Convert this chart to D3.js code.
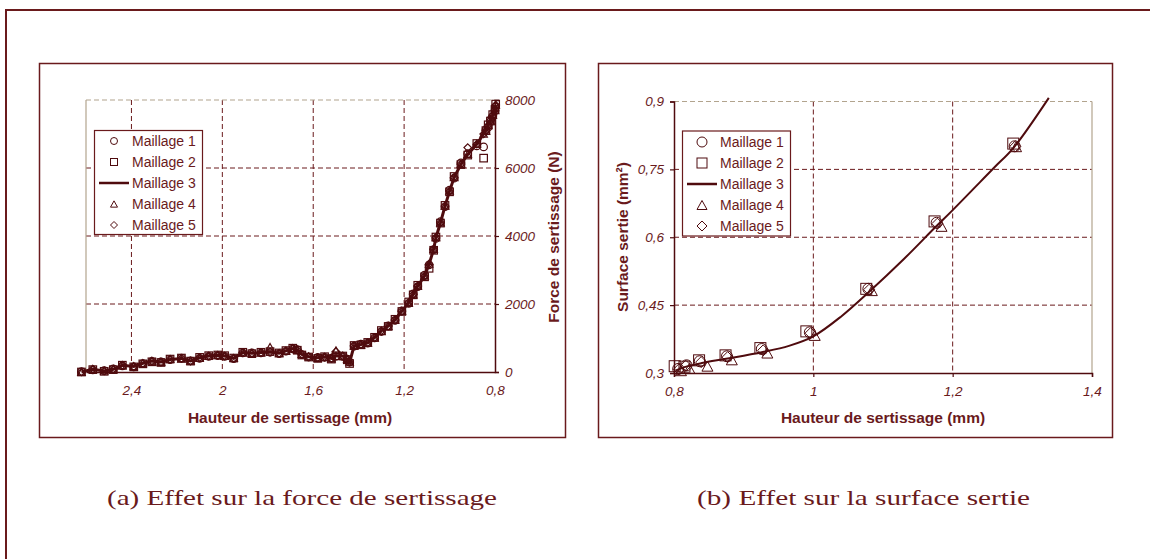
<!DOCTYPE html>
<html>
<head>
<meta charset="utf-8">
<script src="https://cdn.jsdelivr.net/npm/d3@7/dist/d3.min.js"></script>
<style>
  body { margin:0; background:#ffffff; }
  text { font-family:"Liberation Sans", Arial, sans-serif; }
</style>
</head>
<body>
<svg id="fig" width="1150" height="559"></svg>
<script>
// ---- data (a) : force de sertissage vs hauteur ----
var hauteurs = [2.62,2.57,2.52,2.48,2.44,2.39,2.35,2.31,2.27,2.23,2.18,2.14,2.10,2.06,2.02,1.99,1.95,1.91,1.87,1.83,
  1.79,1.75,1.72,1.69,1.67,1.65,1.62,1.58,1.55,1.52,1.50,1.47,1.45,1.44,1.42,1.39,1.36,1.33,1.30,1.27,
  1.24,1.21,1.18,1.16,1.14,1.11,1.09,1.07,1.06,1.04,1.02,1.00,0.98,0.95,0.92,0.88,0.85,0.84,0.83,0.82,
  0.81,0.80,0.797];
var forceM1 = [10,60,40,90,180,150,250,310,300,360,410,330,400,460,480,460,390,560,560,560,
  580,540,610,680,660,510,440,430,430,410,460,460,380,290,760,820,850,1000,1190,1360,
  1520,1800,2020,2300,2510,2850,3150,3600,3930,4420,4860,5350,5700,6150,6420,6650,6620,7120,7200,7420,
  7520,7680,7800];
var forceM2 = [0,70,20,70,200,150,240,300,280,380,410,320,430,480,500,480,410,580,540,580,
  600,560,630,700,640,500,440,400,450,380,480,470,360,250,780,800,870,1020,1220,1340,
  1550,1780,2060,2270,2550,2800,3050,3580,3970,4380,4900,5300,5750,6100,6380,6720,6290,7100,7270,7380,
  7570,7720,7880];
var forceM3 = [0,80,30,80,195,160,255,320,295,370,400,325,420,470,490,470,400,570,550,570,
  590,550,620,690,650,520,450,420,440,400,470,470,370,280,770,810,860,1010,1210,1350,
  1530,1790,2040,2280,2530,2820,3170,3610,3950,4390,4880,5320,5720,6110,6400,6700,7000,7100,7250,7400,
  7550,7700,7850];
var forceM4 = [0,90,40,90,190,170,260,330,290,380,390,330,410,470,500,470,410,570,560,570,
  740,550,620,700,650,530,460,410,440,400,640,480,380,300,770,810,860,1010,1200,1350,
  1530,1790,2030,2280,2530,2830,3180,3620,3960,4400,4890,5330,5730,6120,6410,6710,7010,7090,7260,7390,
  7560,7700,7860];
var forceM5 = [0,80,30,80,200,160,250,320,300,370,400,320,420,470,490,470,400,570,550,570,
  590,550,620,690,650,520,450,420,440,400,600,470,370,290,770,810,860,1010,1210,1350,
  1530,1790,2040,2280,2530,2820,3170,3610,3950,4390,4880,5320,5720,6110,6600,6700,7000,7100,7250,7400,
  7550,7700,7850];

// ---- data (b) : surface sertie vs hauteur ----
var surfM1 = [[0.806,0.309],[0.818,0.317],[0.837,0.326],[0.876,0.337],[0.926,0.353],[0.995,0.390],[1.079,0.486],[1.177,0.632],[1.289,0.801]];
var surfM2 = [[0.801,0.315],[0.815,0.314],[0.836,0.328],[0.874,0.339],[0.924,0.355],[0.990,0.392],[1.076,0.486],[1.174,0.635],[1.287,0.807]];
var surfM4 = [[0.810,0.305],[0.822,0.310],[0.848,0.315],[0.883,0.329],[0.934,0.344],[1.002,0.383],[1.084,0.482],[1.184,0.624],[1.291,0.800]];
var surfM5 = [[0.807,0.308],[0.817,0.316],[0.839,0.324],[0.877,0.335],[0.928,0.350],[0.996,0.388],[1.080,0.484],[1.178,0.630],[1.290,0.801]];
var surfM3 = [[0.802,0.305],[0.815,0.313],[0.840,0.322],[0.877,0.332],[0.926,0.346],[0.965,0.360],[1.000,0.381],
  [1.040,0.425],[1.079,0.478],[1.130,0.552],[1.175,0.622],[1.200,0.660],[1.259,0.753],[1.287,0.797],[1.338,0.908]];

var xTicksA = [2.4, 2, 1.6, 1.2, 0.8];
var yTicksA = [0, 2000, 4000, 6000, 8000];
var xTicksB = [0.8, 1, 1.2, 1.4];
var yTicksB = [0.3, 0.45, 0.6, 0.75, 0.9];
var legendLabels = ["Maillage 1", "Maillage 2", "Maillage 3", "Maillage 4", "Maillage 5"];
var legendKinds = ["circle", "square", "line", "triangle", "diamond"];

var dark = "#4f0b0e";
var red = "#6a1a1c";
var tan = "#b2a48e";

var svg = d3.select("#fig");
svg.append("rect").attr("width",1150).attr("height",559).attr("fill","#ffffff");

// outer frame (runs past the picture on right & bottom)
svg.append("rect").attr("x",6).attr("y",10).attr("width",1160).attr("height",570)
  .attr("fill","none").attr("stroke",red).attr("stroke-width",2);

// chart boxes
svg.append("rect").attr("x",39.5).attr("y",63.5).attr("width",526).attr("height",374)
  .attr("fill","none").attr("stroke",red).attr("stroke-width",1.5);
svg.append("rect").attr("x",598.5).attr("y",63.5).attr("width",514).attr("height",374)
  .attr("fill","none").attr("stroke",red).attr("stroke-width",1.5);

function fr(d) { return String(d).replace(".", ","); }

function marker(g, kind, x, y, s) {
  //s = approx width of the marker
  if (kind == "circle") {
    g.append("circle").attr("cx",x).attr("cy",y).attr("r",s/2);
  } else if (kind == "square") {
    g.append("rect").attr("x",x-s/2).attr("y",y-s/2).attr("width",s).attr("height",s);
  } else if (kind == "triangle") {
    var h = s*0.9;
    g.append("path").attr("d","M"+x+","+(y-h/2)+"L"+(x+s/2)+","+(y+h/2)+"L"+(x-s/2)+","+(y+h/2)+"Z");
  } else if (kind == "diamond") {
    var r = s/2;
    g.append("path").attr("d","M"+x+","+(y-r)+"L"+(x+r)+","+y+"L"+x+","+(y+r)+"L"+(x-r)+","+y+"Z");
  }
}

// ================= chart (a) =================
var xA = d3.scaleLinear().domain([2.6, 0.8]).range([86, 495]);
var yA = d3.scaleLinear().domain([0, 8000]).range([372, 100]);

var gA = svg.append("g");
// grid
gA.selectAll(".vgrid").data([2.4, 2, 1.6, 1.2]).enter().append("line")
  .attr("x1",d => xA(d)).attr("x2",d => xA(d)).attr("y1",yA(8000)).attr("y2",yA(0))
  .attr("stroke",red).attr("stroke-dasharray","5,3").attr("stroke-width",1);
gA.selectAll(".hgrid").data([2000, 4000, 6000]).enter().append("line")
  .attr("x1",xA(2.6)).attr("x2",xA(0.8)).attr("y1",d => yA(d)).attr("y2",d => yA(d))
  .attr("stroke",red).attr("stroke-dasharray","5,3").attr("stroke-width",1);
gA.append("line").attr("x1",xA(2.6)).attr("x2",xA(0.8)).attr("y1",yA(8000)).attr("y2",yA(8000))
  .attr("stroke",tan).attr("stroke-dasharray","5,3").attr("stroke-width",1.2);
gA.append("line").attr("x1",xA(2.6)).attr("x2",xA(2.6)).attr("y1",yA(8000)).attr("y2",yA(0))
  .attr("stroke",tan).attr("stroke-width",1.2);

// axes
var axA = gA.append("g").attr("transform","translate(0,"+yA(0)+")")
  .call(d3.axisBottom(xA).tickValues(xTicksA).tickSize(0).tickPadding(13).tickFormat(fr));
var ayA = gA.append("g").attr("transform","translate("+xA(0.8)+",0)")
  .call(d3.axisRight(yA).tickValues(yTicksA).tickSize(4).tickPadding(6).tickFormat(d => String(d)));
[axA, ayA].forEach(function(a) {
  a.select(".domain").attr("stroke",dark).attr("stroke-width",1.5);
  a.selectAll(".tick line").attr("stroke",dark).attr("stroke-width",1.2);
  a.selectAll(".tick text").attr("fill",red).style("font-size","13.5px").style("font-style","italic")
    .style("font-family","'Liberation Sans', Arial, sans-serif");
});

// data
var lineA = d3.line().x(d => xA(d[0])).y(d => yA(d[1]));
var seriesA = [forceM1, forceM2, forceM4, forceM5];
var kindsA = ["circle", "square", "triangle", "diamond"];
for (var k=0; k<seriesA.length; k++) {
  var gm = gA.append("g").attr("fill","none").attr("stroke",dark).attr("stroke-width",1.2);
  for (var i=0; i<hauteurs.length; i++) {
    marker(gm, kindsA[k], xA(hauteurs[i]), yA(seriesA[k][i]), 7.5);
  }
}
gA.append("path").datum(hauteurs.map((h,i) => [h, forceM3[i]]))
  .attr("d",lineA).attr("fill","none").attr("stroke",dark).attr("stroke-width",3);

// titles
gA.append("text").attr("x",290).attr("y",423).attr("text-anchor","middle")
  .attr("fill",red).style("font-weight","bold").style("font-size","15.5px")
  .text("Hauteur de sertissage (mm)");
gA.append("text").attr("transform","translate(559,237) rotate(-90)").attr("text-anchor","middle")
  .attr("fill",red).style("font-weight","bold").style("font-size","15.5px")
  .text("Force de sertissage (N)");

// ================= chart (b) =================
var xB = d3.scaleLinear().domain([0.8, 1.4]).range([674, 1092]);
var yB = d3.scaleLinear().domain([0.3, 0.9]).range([373, 101.5]);

var gB = svg.append("g");
gB.selectAll(".vgrid").data([1, 1.2]).enter().append("line")
  .attr("x1",d => xB(d)).attr("x2",d => xB(d)).attr("y1",yB(0.9)).attr("y2",yB(0.3))
  .attr("stroke",red).attr("stroke-dasharray","5,3").attr("stroke-width",1);
gB.selectAll(".hgrid").data([0.45, 0.6, 0.75]).enter().append("line")
  .attr("x1",xB(0.8)).attr("x2",xB(1.4)).attr("y1",d => yB(d)).attr("y2",d => yB(d))
  .attr("stroke",red).attr("stroke-dasharray","5,3").attr("stroke-width",1);
gB.append("line").attr("x1",xB(0.8)).attr("x2",xB(1.4)).attr("y1",yB(0.9)).attr("y2",yB(0.9))
  .attr("stroke",tan).attr("stroke-dasharray","5,3").attr("stroke-width",1.2);
gB.append("line").attr("x1",xB(1.4)).attr("x2",xB(1.4)).attr("y1",yB(0.9)).attr("y2",yB(0.3))
  .attr("stroke",tan).attr("stroke-width",1.2);

var axB = gB.append("g").attr("transform","translate(0,"+yB(0.3)+")")
  .call(d3.axisBottom(xB).tickValues(xTicksB).tickSize(4).tickPadding(9).tickFormat(fr));
var ayB = gB.append("g").attr("transform","translate("+xB(0.8)+",0)")
  .call(d3.axisLeft(yB).tickValues(yTicksB).tickSize(4).tickPadding(6).tickFormat(fr));
[axB, ayB].forEach(function(a) {
  a.select(".domain").attr("stroke",dark).attr("stroke-width",1.5);
  a.selectAll(".tick line").attr("stroke",dark).attr("stroke-width",1.2);
  a.selectAll(".tick text").attr("fill",red).style("font-size","13.5px").style("font-style","italic")
    .style("font-family","'Liberation Sans', Arial, sans-serif");
});

var seriesB = [surfM1, surfM2, surfM4, surfM5];
for (var k=0; k<seriesB.length; k++) {
  var gm = gB.append("g").attr("fill","none").attr("stroke",dark).attr("stroke-width",1);
  seriesB[k].forEach(function(p) {
    marker(gm, kindsA[k], xB(p[0]), yB(p[1]), 11);
  });
}
var lineB = d3.line().x(d => xB(d[0])).y(d => yB(d[1])).curve(d3.curveCatmullRom);
gB.append("path").datum(surfM3).attr("d",lineB)
  .attr("fill","none").attr("stroke",dark).attr("stroke-width",2);

gB.append("text").attr("x",883).attr("y",423).attr("text-anchor","middle")
  .attr("fill",red).style("font-weight","bold").style("font-size","15.5px")
  .text("Hauteur de sertissage (mm)");
gB.append("text").attr("transform","translate(628,237) rotate(-90)").attr("text-anchor","middle")
  .attr("fill",red).style("font-weight","bold").style("font-size","15.5px")
  .text("Surface sertie (mm²)");

// ================= legends =================
function legend(x0, y0, w, h, symX, lineX1, lineX2, textX, rowY, s) {
  var g = svg.append("g");
  g.append("rect").attr("x",x0).attr("y",y0).attr("width",w).attr("height",h)
    .attr("fill","#ffffff").attr("stroke",red).attr("stroke-width",1.2);
  legendLabels.forEach(function(lab, i) {
    var y = rowY[i];
    if (legendKinds[i] == "line") {
      g.append("line").attr("x1",lineX1).attr("x2",lineX2).attr("y1",y).attr("y2",y)
        .attr("stroke",dark).attr("stroke-width",2.5);
    } else {
      var gm = g.append("g").attr("fill","none").attr("stroke",dark).attr("stroke-width",1);
      marker(gm, legendKinds[i], symX, y, s);
    }
    g.append("text").attr("x",textX).attr("y",y).attr("dy","0.36em")
      .attr("fill",red).style("font-size","14px").text(lab);
  });
}
legend(94.5, 130.5, 108, 104, 114, 99, 129, 132, [141, 162, 183, 204, 225], 7);
legend(682.5, 131, 108, 105, 702, 687, 717, 720, [142, 163, 184, 205, 226], 10);

// ================= captions =================
svg.append("text").attr("x",107).attr("y",505).attr("textLength",390).attr("lengthAdjust","spacingAndGlyphs")
  .attr("fill",red).style("font-family","'Liberation Serif', 'Times New Roman', serif").style("font-size","22px")
  .text("(a) Effet sur la force de sertissage");
svg.append("text").attr("x",697).attr("y",505).attr("textLength",333).attr("lengthAdjust","spacingAndGlyphs")
  .attr("fill",red).style("font-family","'Liberation Serif', 'Times New Roman', serif").style("font-size","22px")
  .text("(b) Effet sur la surface sertie");
</script>
</body>
</html>
